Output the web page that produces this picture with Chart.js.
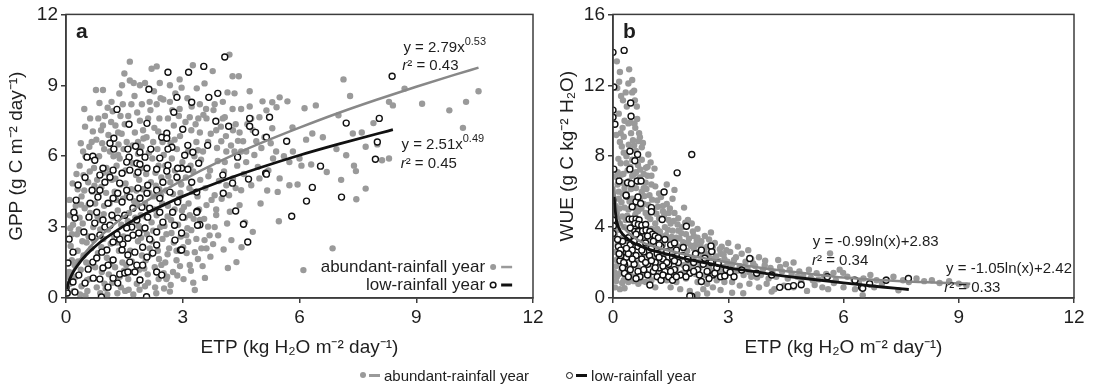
<!DOCTYPE html>
<html>
<head>
<meta charset="utf-8">
<script src="https://cdn.jsdelivr.net/npm/chart.js@4.4.1/dist/chart.umd.min.js"></script>
<style>
  body { margin: 0; background: #fff; width: 1094px; height: 388px; position: relative; overflow: hidden;
         font-family: 'Liberation Sans', Arial, sans-serif; }
  #ca { position: absolute; left: 0; top: 0; }
  #cb { position: absolute; left: 550px; top: 0; }
  #legend { position: absolute; left: 360px; top: 365px; height: 20px; display: flex; align-items: center;
            font-size: 15px; color: #1e1e1e; white-space: nowrap; }
  .dot { width: 6px; height: 6px; border-radius: 50%; background: #9a9a9a; margin-right: 3px; }
  .dash { width: 11px; height: 3px; margin-right: 4px; }
  .ring { width: 5px; height: 5px; border-radius: 50%; border: 1.5px solid #111; background: #fff; margin-right: 3px; }
</style>
</head>
<body>
<canvas id="ca" width="550" height="388"></canvas>
<canvas id="cb" width="544" height="388"></canvas>
<div id="legend">
  <span class="dot"></span><span class="dash" style="background:#9a9a9a"></span><span>abundant-rainfall year</span>
  <span class="ring" style="margin-left:37px"></span><span class="dash" style="background:#111"></span><span>low-rainfall year</span>
</div>
<script>
// ---------------------------------------------------------
// datos (ETP, valor)
// ---------------------------------------------------------
const xTicks = [0, 3, 6, 9, 12];
const gppTicks = [0, 3, 6, 9, 12];
const wueTicks = [0, 4, 8, 12, 16];
const seriesNames = ['abundant-rainfall year', 'low-rainfall year'];

// a) GPP - año lluvioso (puntos grises)
const gppAbundant = [
  [0.05,0.2],[0.1,0.6],[0.08,1.1],[0.15,1.6],[0.12,2.2],[0.2,0.3],[0.25,0.9],[0.22,1.4],[0.3,2.0],[0.28,2.7],
  [0.18,3.1],[0.35,3.4],[0.4,0.5],[0.38,1.2],[0.45,1.8],[0.42,2.4],[0.33,2.9],[0.48,3.8],[0.4,4.3],[0.3,4.6],
  [0.45,5.2],[0.35,5.6],[0.5,6.0],[0.44,6.2],[0.47,8.0],[0.15,2.7],[0.1,3.5],[0.05,0.9],[0.25,3.9],[0.5,0.1],[0.02,0.5],
  [0.55,0.3],[0.6,0.8],[0.52,1.5],[0.65,2.1],[0.58,2.6],[0.7,3.0],[0.62,3.6],[0.75,4.0],[0.68,4.5],[0.8,5.0],
  [0.72,5.5],[0.85,6.0],[0.6,6.4],[0.78,6.7],[0.9,7.1],[0.62,7.6],[0.77,8.8],[0.95,8.8],[0.88,0.2],[0.92,1.1],
  [0.82,1.9],[0.96,2.5],[0.87,3.3],[0.98,3.9],[0.91,4.7],[0.96,5.3],[0.7,5.9],[0.98,6.3],[0.83,7.6],[0.66,6.6],
  [0.57,4.9],[0.75,1.3],[0.99,0.6],[0.88,2.9],[0.95,7.3],
  [1.02,0.4],[1.1,1.0],[1.05,1.7],[1.15,2.3],[1.08,2.9],[1.2,3.4],[1.12,4.0],[1.25,4.5],[1.18,5.0],[1.3,5.6],
  [1.22,6.0],[1.35,6.5],[1.09,6.9],[1.27,7.3],[1.4,7.7],[1.17,8.3],[1.46,8.2],[1.32,0.2],[1.38,0.9],[1.45,1.5],
  [1.36,2.0],[1.48,2.6],[1.42,3.1],[1.33,3.7],[1.47,4.2],[1.4,4.8],[1.45,5.3],[1.38,5.9],[1.48,6.3],[1.34,7.0],
  [1.0,7.7],[1.13,6.2],[1.26,1.3],[1.2,7.9],[1.44,9.0],[1.04,5.5],
  [1.52,0.3],[1.6,0.8],[1.55,1.4],[1.65,2.0],[1.58,2.5],[1.7,3.1],[1.62,3.6],[1.75,4.1],[1.68,4.6],[1.8,5.2],
  [1.72,5.7],[1.85,6.1],[1.56,6.6],[1.77,7.0],[1.9,7.5],[1.68,8.2],[1.64,10.0],[1.64,9.2],[1.74,9.1],[1.9,9.0],
  [1.95,8.2],[1.82,0.6],[1.88,1.2],[1.95,1.8],[1.85,2.4],[1.98,2.9],[1.92,3.5],[1.83,4.0],[1.97,4.6],[1.88,5.0],
  [1.95,5.5],[1.85,6.6],[1.98,7.1],[1.6,7.7],[1.53,5.4],[1.78,3.4],[1.66,1.1],[1.5,9.5],[1.94,6.4],
  [2.03,0.5],[2.1,1.0],[2.05,1.6],[2.15,2.1],[2.08,2.7],[2.2,3.2],[2.12,3.8],[2.25,4.3],[2.18,4.9],[2.3,5.3],
  [2.22,5.9],[2.35,6.3],[2.07,6.8],[2.27,7.2],[2.4,7.6],[2.15,8.3],[2.03,9.1],[2.2,9.7],[2.33,9.8],[2.41,9.1],
  [2.33,8.2],[2.32,0.2],[2.38,0.8],[2.45,1.4],[2.36,2.0],[2.48,2.5],[2.42,3.0],[2.33,3.5],[2.47,4.0],[2.4,4.6],
  [2.45,5.1],[2.38,5.6],[2.48,6.6],[2.11,7.6],[2.24,6.6],[2.03,4.0],[2.28,1.3],[2.2,2.4],
  [2.52,0.4],[2.6,0.9],[2.55,1.5],[2.65,2.1],[2.58,2.7],[2.7,3.3],[2.62,3.9],[2.75,4.4],[2.68,4.9],[2.8,5.4],
  [2.72,5.9],[2.85,6.3],[2.56,6.8],[2.77,7.3],[2.9,7.7],[2.67,8.3],[2.67,9.0],[2.92,9.25],[2.97,8.9],[2.92,8.0],
  [2.84,1.6],[2.75,1.1],[2.58,0.8],[2.84,2.0],[2.95,2.6],[2.88,3.1],[2.98,3.7],[2.9,4.2],[2.96,4.8],[2.55,5.6],
  [2.79,6.7],[2.62,7.6],[2.67,0.27],[2.5,8.4],
  [3.02,0.8],[3.1,1.9],[3.18,1.4],[3.14,2.38],[3.22,2.87],[3.05,3.4],[3.15,4.0],[3.25,4.5],[3.08,5.1],[3.2,5.6],
  [3.3,6.0],[3.14,6.2],[3.35,6.6],[3.22,7.1],[3.18,7.65],[3.23,8.1],[3.36,8.87],[3.26,9.85],[3.31,1.94],[3.31,0.34],
  [3.44,3.3],[3.48,2.1],[3.44,7.0],[3.4,7.6],[3.44,8.2],[3.52,6.2],[3.45,5.0],[3.38,4.3],[3.18,3.5],[3.35,2.5],
  [3.56,2.45],[3.61,2.1],[3.78,2.28],[3.82,3.0],[3.65,3.02],[3.86,3.51],[3.61,3.93],[3.82,4.35],[4.12,4.77],[4.29,5.06],
  [4.5,4.56],[4.21,3.65],[4.46,3.93],[4.16,1.27],[4.38,1.52],[3.6,8.0],[3.56,9.08],[3.77,9.6],[3.82,8.2],[4.03,8.3],
  [4.28,8.0],[4.15,8.7],[4.33,8.66],[4.28,9.38],[4.44,9.38],[4.2,10.3],[3.65,6.6],[3.86,7.1],[4.03,7.6],[4.12,6.2],
  [3.99,6.63],[4.08,7.65],[4.29,7.1],[4.33,6.2],[4.5,6.2],[3.7,5.4],[3.9,5.8],[4.08,5.75],[4.46,7.0],[3.61,7.6],
  [4.4,5.6],[4.0,4.2],
  [4.5,8.0],[4.55,6.63],[4.63,6.2],[4.72,8.75],[4.72,8.1],[4.76,7.6],[4.63,5.75],[4.76,4.77],[4.8,7.1],[4.89,6.63],
  [4.97,5.06],[4.97,7.65],[4.8,2.8],[5.05,8.32],[5.1,6.8],[5.15,7.94],[5.3,8.28],[5.3,7.18],[5.32,5.9],[5.4,6.2],
  [5.41,8.07],[5.49,8.49],[5.49,5.06],[5.44,4.49],[5.47,3.25],[5.69,8.32],[5.74,4.77],[5.74,5.75],[5.82,7.22],[5.83,6.2],
  [5.95,4.8],[6.0,5.9],[6.13,8.03],[6.17,6.7],[6.05,5.6],[6.1,1.18],[6.3,5.65],[6.33,6.96],[6.42,8.15],[5.2,5.4],
  [5.6,6.0],[4.6,3.2],[5.0,4.0],
  [6.7,5.33],[6.85,2.1],[6.95,6.3],[7.0,7.73],[7.07,5.0],[7.13,9.25],[7.2,6.04],[7.3,8.55],[7.37,6.96],[7.4,5.6],
  [7.45,5.37],[7.46,4.18],[7.7,4.63],[7.7,6.4],[7.9,7.4],[8.12,5.83],[8.3,5.9],[8.3,8.3],[8.4,8.15],[8.7,8.86],
  [9.15,8.22],[9.85,7.94],[10.2,7.2],[10.28,8.3],[10.6,8.75],[6.6,6.8],[7.6,7.0],[8.0,6.5],
  [0.13,0.85],[0.21,1.95],[0.36,0.15],[0.31,1.55],[0.43,3.15],[0.53,2.35],[0.61,5.35],[0.73,4.75],[0.69,7.05],[0.81,3.45],
  [0.93,6.55],[0.86,8.25],[1.07,8.05],[1.16,7.45],[1.23,2.65],[1.29,4.15],[1.37,8.65],[1.43,6.95],[1.51,7.35],[1.57,4.35],
  [1.63,5.95],[1.71,6.45],[1.76,8.55],[1.83,7.85],[1.91,4.25],[1.99,6.75],[2.06,5.25],[2.13,6.15],[2.17,7.95],[2.26,8.75],
  [2.31,4.75],[2.37,7.05],[2.43,8.45],[2.51,6.05],[2.57,4.55],[2.63,5.15],[2.69,6.55],[2.73,7.95],[2.81,8.65],[2.87,5.05],
  [2.93,6.85],[2.99,5.75],[3.07,7.45],[3.12,8.45],[3.17,4.65],[3.27,5.35],[3.33,7.35],[3.39,6.25],[3.47,5.85],[3.53,7.75],
  [3.58,4.65],[3.66,5.15],[3.72,6.95],[3.79,7.95],[3.88,6.35],[3.93,4.95],[3.98,7.25],[4.06,5.35],[4.11,6.85],[4.19,4.35],
  [4.24,6.45],[4.36,7.35],[4.42,6.65],[4.57,5.25],[4.66,7.35],[4.84,6.05],[4.93,5.55],[5.02,6.35],[5.17,4.55],[5.26,6.55],
  [0.09,4.15],[0.17,4.85],[0.27,5.25],[0.38,6.55],[0.49,7.25],[0.54,0.75],[0.63,1.35],[0.79,0.45],[0.91,2.15],[1.06,0.15],
  [1.14,1.45],[1.19,0.65],[1.31,2.35],[1.41,0.45],[1.49,1.15],[1.61,0.35],[1.69,1.55],[1.73,0.15],[1.89,0.35],[1.93,2.55],
  [2.01,1.25],[2.11,0.65],[2.19,1.85],[2.29,0.45],[2.39,1.65],[2.51,1.05],[2.61,1.85],[2.69,0.55],[2.77,2.35],[2.86,0.95],
  [2.93,1.35],[3.01,2.15],[3.09,2.65],[3.21,1.15],[3.27,0.65],[3.39,1.65],[3.51,1.35],[3.57,0.85],[3.71,1.75],[3.69,2.65],
  [3.91,2.65],[4.05,2.05],[4.25,2.45],[4.51,2.15],[0.11,2.95],[0.23,3.55],[0.39,3.95],[0.47,4.55],[0.58,3.95],[0.71,2.45],
  [0.83,4.35],[0.97,3.55],[1.03,4.45],[1.11,5.25],[1.27,5.05],[1.34,6.05],[1.53,4.85],[1.59,3.25],[1.73,3.85],[1.81,4.55],
  [1.87,3.05],[2.04,3.45],[2.14,4.45],[2.24,2.85],[2.28,3.75],[2.44,4.35],[2.53,3.05],[2.61,3.45],[2.71,2.75],[2.79,3.75],
  [2.94,4.45],[3.03,3.85],[3.12,2.95],[3.28,3.35],[3.42,3.75],[3.55,3.35],[3.74,4.15],[3.86,3.75],[4.14,3.15],[4.36,4.65]
];

// a) GPP - año seco (círculos)
const gppLow = [
  [4.08,10.2],[3.54,9.8],[3.15,9.55],[2.62,9.55],[2.13,8.83],[3.9,8.66],[3.67,8.49],[3.23,8.28],[2.85,8.49],[1.31,7.98],
  [2.77,7.86],[4.72,7.6],[5.23,7.65],[3.85,7.48],[4.18,7.27],[4.72,7.27],[4.87,7.01],[3.0,7.14],[2.08,7.39],[1.62,7.35],
  [5.15,6.8],[5.67,6.63],[2.46,6.8],[2.59,6.97],[2.59,6.76],[1.23,6.76],[1.13,6.55],[1.23,6.3],[1.59,6.3],[1.79,6.42],
  [1.9,6.17],[2.18,6.3],[2.72,6.38],[2.62,6.3],[3.13,6.46],[3.26,6.17],[3.64,6.46],[3.05,6.04],[2.03,5.96],[1.62,5.96],
  [0.54,5.96],[0.69,6.0],[0.74,5.83],[2.41,5.92],[3.41,5.7],[4.41,5.96],[1.56,5.75],[1.82,5.7],[1.9,5.66],[2.62,5.62],
  [2.97,5.49],[8.38,9.38],[7.2,7.4],[8.05,7.6],[8.0,6.6],[7.95,5.87],[6.54,5.58],[5.13,5.28],[6.33,4.68],[7.08,4.27],
  [6.18,4.1],[5.8,3.46],[4.67,2.37],[4.56,3.12],[4.36,3.68],[3.44,3.1],[3.37,3.67],[2.94,2.03],[2.8,2.45],[2.07,0.05],
  [0.91,0.04],[4.28,4.86],[4.04,4.43],
  [0.49,5.1],[0.31,4.78],[0.26,4.14],[0.2,3.63],[0.23,3.38],[0.08,2.49],[0.18,1.94],[0.05,1.48],[0.0,0.42],[0.03,0.21],
  [0.23,0.25],[0.18,0.68],[0.33,0.97],[0.49,0.63],[0.57,1.22],[0.7,0.84],[0.69,1.52],[0.87,0.8],[1.08,0.46],[1.21,0.84],
  [1.33,0.63],[1.38,1.01],[1.51,1.06],[1.59,1.1],[1.77,1.1],[1.9,0.76],[1.82,1.39],[1.97,1.39],[2.33,1.1],[2.46,0.97],
  [2.23,1.9],[2.08,1.73],[1.97,2.15],[2.15,2.49],[2.33,2.24],[2.03,2.96],[1.87,2.75],[1.72,2.66],[1.59,2.53],[1.46,2.28],
  [1.38,2.49],[1.31,2.7],[1.21,2.37],[1.05,2.03],[0.92,1.94],[0.79,1.69],[0.67,2.58],[0.87,2.66],[1.0,3.0],[0.95,3.3],
  [0.74,3.17],[0.59,3.42],[0.46,2.79],[0.79,3.63],[0.62,4.01],[0.82,4.27],[0.67,4.56],[0.87,4.56],[1.0,4.9],[1.13,5.11],
  [0.87,5.2],[0.95,5.49],[1.21,5.41],[1.44,5.28],[1.64,5.41],[1.85,5.32],[2.08,5.49],[2.33,5.45],[2.59,5.37],[2.87,5.49],
  [3.13,5.45],[2.85,5.11],[3.23,4.9],[3.36,4.48],[1.38,4.86],[1.56,4.56],[1.33,4.43],[1.21,4.22],[1.08,4.01],[1.44,4.06],
  [1.64,4.27],[1.85,4.65],[2.08,4.43],[1.9,4.22],[2.1,4.77],[2.33,4.56],[2.49,4.9],[2.41,4.22],[2.15,3.8],[1.95,3.84],
  [1.72,3.8],[1.51,3.5],[1.33,3.38],[1.18,3.5],[1.13,3.08],[1.82,3.3],[2.1,3.42],[2.41,3.63],[2.49,3.21],[2.33,2.79],
  [1.69,3.0],[1.56,2.96],[1.44,2.03],[1.59,1.82],[1.77,1.94],[1.64,1.52],[1.21,1.61],[1.08,1.39],[0.95,1.27],[2.74,3.63],
  [2.79,3.08],[3.0,3.42],[3.36,3.63],[3.38,3.08],[2.97,2.03],[2.87,4.06],[2.67,4.48],[4.03,5.2],[4.69,5.03],[5.15,5.24],
  [2.97,2.75]
];

// a) curvas de ajuste
const gppFitAbundant = [
  [0.02,0.35],[0.05,0.57],[0.1,0.82],[0.2,1.19],[0.35,1.6],[0.5,1.93],[0.75,2.4],[1,2.79],[1.5,3.46],[2,4.03],
  [2.5,4.53],[3,4.99],[4,5.82],[5,6.55],[6,7.21],[7,7.83],[8,8.4],[9,8.94],[10,9.45],[10.6,9.75]
];
const gppFitLow = [
  [0.02,0.37],[0.05,0.58],[0.1,0.81],[0.2,1.14],[0.35,1.5],[0.5,1.79],[0.75,2.18],[1,2.51],[1.5,3.06],[2,3.53],
  [2.5,3.93],[3,4.3],[4,4.95],[5,5.52],[6,6.04],[7,6.51],[8,6.95],[8.4,7.12]
];

// b) WUE - año lluvioso (puntos grises)
const wueAbundant = [
  [0.05,0.6],[0.1,1.2],[0.08,1.8],[0.15,2.4],[0.12,3.0],[0.05,3.6],[0.18,4.2],[0.1,4.8],[0.22,5.4],[0.15,6.0],
  [0.25,6.5],[0.12,7.1],[0.2,7.6],[0.28,8.2],[0.1,13.35],[0.18,12.75],[0.21,11.4],[0.26,11.15],[0.15,10.4],[0.25,9.6],
  [0.18,8.8],[0.28,1.0],[0.22,1.6],[0.27,2.2],[0.3,2.8],[0.25,3.4],[0.29,4.0],[0.24,4.6],[0.3,5.1],[0.07,5.2],
  [0.18,0.5],[0.3,0.55],[0.27,7.0],[0.08,9.2],[0.12,6.4],[0.05,2.6],
  [0.42,12.9],[0.4,12.1],[0.5,11.6],[0.55,11.7],[0.57,11.15],[0.4,9.85],[0.45,9.9],[0.68,9.3],[0.7,9.07],[0.47,9.3],
  [0.55,8.6],[0.75,8.5],[0.6,8.3],[0.35,8.0],[0.5,7.8],[0.65,7.5],[0.38,7.2],[0.55,7.0],[0.7,6.8],[0.42,6.6],
  [0.6,6.2],[0.35,5.9],[0.5,5.6],[0.68,5.3],[0.4,5.0],[0.58,4.7],[0.33,4.4],[0.65,4.2],[0.45,3.9],[0.55,3.5],
  [0.38,3.2],[0.62,2.9],[0.48,2.6],[0.35,2.3],[0.6,2.0],[0.45,1.7],[0.7,1.5],[0.55,1.2],[0.4,0.9],[0.66,0.8],
  [0.5,6.9],[0.63,10.1],[0.36,10.8],[0.52,8.9],
  [0.75,7.8],[0.9,7.4],[0.8,7.0],[1.0,6.9],[0.85,6.5],[1.1,6.3],[0.75,6.0],[0.95,5.8],[1.15,5.5],[0.8,5.3],
  [1.05,5.0],[0.9,4.6],[1.2,4.5],[0.78,4.1],[1.0,3.9],[1.12,3.6],[0.85,3.4],[0.95,3.0],[1.18,2.8],[0.8,2.5],
  [1.05,2.2],[0.9,1.9],[1.15,1.6],[0.75,1.3],[1.0,1.0],[0.85,0.9],[1.1,0.6],[0.96,0.73],[1.2,5.9],[1.08,7.3],
  [0.92,8.1],[0.72,3.7],[1.18,3.2],
  [1.25,5.7],[1.4,5.3],[1.3,4.9],[1.55,5.6],[1.6,4.8],[1.45,4.4],[1.7,4.5],[1.35,4.0],[1.55,3.8],[1.8,4.0],
  [1.25,3.5],[1.45,3.3],[1.65,3.4],[1.9,3.6],[1.3,3.0],[1.5,2.8],[1.75,2.9],[1.95,3.1],[1.35,2.5],[1.6,2.3],
  [1.85,2.4],[1.25,2.0],[1.45,1.8],[1.7,1.9],[1.95,2.0],[1.3,1.5],[1.55,1.3],[1.8,1.4],[1.4,1.0],[1.65,0.9],
  [1.9,1.1],[1.5,0.6],[1.75,0.5],[1.85,5.1],[1.95,4.4],[1.6,6.1],[1.4,6.4],[1.2,1.2],
  [2.05,4.2],[2.2,3.9],[2.39,3.5],[2.1,3.5],[2.3,3.2],[2.5,3.3],[2.15,3.0],[2.45,2.9],[2.65,3.1],[2.83,2.9],
  [2.2,2.6],[2.4,2.5],[2.6,2.6],[2.8,2.5],[2.95,2.7],[2.1,2.2],[2.35,2.1],[2.55,2.2],[2.75,2.1],[2.9,2.2],
  [2.05,1.8],[2.25,1.7],[2.5,1.75],[2.7,1.7],[2.95,1.8],[2.15,1.35],[2.4,1.3],[2.6,1.35],[2.85,1.4],[2.2,0.9],
  [2.45,0.8],[2.7,1.0],[2.9,0.9],[2.2,0.2],[2.45,0.25],[2.35,0.5],[2.6,0.6],[2.8,0.45],[2.55,3.7],[2.0,0.4],
  [3.05,2.6],[3.2,2.3],[3.35,2.5],[3.52,2.7],[3.6,2.2],[3.8,2.3],[3.96,2.1],[4.3,2.14],[4.5,1.9],[4.7,2.0],
  [3.1,1.9],[3.3,1.8],[3.5,1.7],[3.7,1.8],[3.9,1.6],[4.1,1.7],[4.4,1.5],[4.6,1.6],[4.85,1.5],[3.15,1.4],
  [3.4,1.3],[3.6,1.2],[3.85,1.3],[4.05,1.1],[4.25,1.2],[4.55,1.1],[4.8,1.2],[3.1,0.9],[3.3,0.7],[3.55,0.8],
  [3.8,0.6],[4.0,0.8],[4.2,0.5],[4.45,0.7],[4.7,0.6],[3.1,0.3],[3.39,0.27],[4.13,0.36],[4.9,0.9],[3.0,3.1],[3.25,2.9],
  [5.1,1.6],[5.3,1.4],[5.25,0.73],[5.5,1.2],[5.65,2.52],[5.74,1.42],[5.8,1.0],[5.99,1.42],[6.1,1.2],[6.26,1.05],
  [6.4,0.9],[6.52,1.1],[6.5,0.16],[6.7,1.3],[6.86,1.0],[7.0,0.8],[7.12,1.05],[7.3,1.2],[7.43,0.44],[7.55,1.0],
  [7.7,0.9],[7.9,1.1],[8.1,0.95],[8.3,1.0],[8.5,0.85],[8.75,0.95],[9.0,0.8],[9.2,0.7],[5.2,1.0],[5.45,0.6],
  [5.6,0.5],[6.0,0.6],[6.3,0.5],[5.9,1.6],[6.8,0.6],[5.05,0.4],
  [0.15,5.6],[0.3,6.2],[0.45,7.4],[0.6,7.1],[0.8,6.2],[0.9,6.9],[0.7,5.6],[1.0,6.4],[0.55,5.2],[0.85,4.8],
  [1.1,4.2],[0.65,4.9],[1.3,5.2],[1.45,4.8],[1.15,3.9],[1.7,3.8],[1.5,4.2],[2.2,3.4],[2.6,2.9],[2.1,2.8],
  [0.25,5.9],[0.35,7.6],[0.2,9.3],[0.3,10.0],[0.58,9.6],[0.62,10.8],[0.5,12.3],
  [0.04,1.45],[0.09,2.15],[0.13,3.85],[0.17,5.05],[0.06,6.85],[0.21,6.95],[0.23,8.55],[0.14,7.85],[0.19,3.25],[0.26,2.65],
  [0.32,1.25],[0.37,4.65],[0.43,5.45],[0.47,6.15],[0.52,4.25],[0.57,3.15],[0.61,4.95],[0.67,6.55],[0.71,7.25],[0.74,5.05],
  [0.77,3.35],[0.82,5.75],[0.87,6.15],[0.92,5.25],[0.97,4.45],[1.02,5.55],[1.07,3.85],[1.13,4.75],[1.17,5.15],[1.22,3.75],
  [1.27,4.45],[1.33,4.65],[1.38,3.55],[1.43,3.85],[1.48,5.05],[1.53,3.45],[1.58,4.35],[1.63,3.05],[1.68,4.15],[1.73,3.35],
  [1.78,3.65],[1.83,3.15],[1.88,4.25],[1.93,2.65],[1.98,3.35],[2.03,2.95],[2.08,3.75],[2.13,2.45],[2.18,3.25],[2.23,2.05],
  [2.28,2.95],[2.33,2.35],[2.38,2.75],[2.43,1.95],[2.48,2.45],[2.53,1.55],[2.58,2.75],[2.63,1.95],[2.68,2.35],[2.73,1.45],
  [2.78,2.75],[2.83,1.75],[2.88,2.45],[2.93,1.25],[2.98,2.05],[3.15,2.15],[3.25,1.55],[3.45,2.05],[3.55,1.45],[3.65,1.95],
  [3.75,1.15],[3.95,1.85],[4.15,1.45],[4.35,1.75],[4.65,1.35],[4.95,1.25],[5.15,1.15],[5.35,1.05],[5.55,1.35],[5.75,0.85],
  [0.08,0.95],[0.16,1.35],[0.24,0.85],[0.34,1.75],[0.44,1.35],[0.54,0.95],[0.64,1.75],[0.74,0.95],[0.84,1.45],[0.94,1.25],
  [1.04,1.85],[1.14,2.45],[1.24,1.65],[1.34,2.15],[1.44,1.45],[1.54,2.05],[1.64,1.65],[1.74,2.25],[1.84,1.85],[1.94,1.55],
  [0.11,11.85],[0.16,12.2],[0.33,11.6],[0.28,9.1],[0.41,8.65],[0.56,9.85],[0.66,8.85],[0.78,8.75],[0.86,7.35],[0.98,7.65]
];

// b) WUE - año seco (círculos)
const wueLow = [
  [0.0,13.86],[0.29,13.97],[0.02,11.9],[0.0,10.6],[0.0,10.2],[0.05,9.8],[0.46,11.0],[0.47,10.25],[0.44,8.28],[0.64,8.1],
  [0.57,7.74],[0.44,7.27],[0.02,7.27],[0.16,6.6],[0.38,6.5],[0.48,6.45],[0.63,6.6],[0.73,6.6],[1.67,7.06],[2.05,8.1],
  [1.33,5.98],[0.35,5.75],[0.0,5.5],[0.6,5.43],[0.72,5.33],[0.5,5.15],[1.0,5.1],[1.0,4.87],[1.28,4.43],[1.91,4.05],
  [0.0,4.4],[0.01,4.06],[0.0,3.64],[0.34,5.8],[0.65,5.7],
  [0.42,4.45],[0.5,4.45],[0.6,4.45],[0.68,4.4],[0.57,4.2],[0.66,4.15],[0.75,4.1],[0.85,4.15],[0.45,3.95],[0.57,3.75],
  [0.66,3.75],[0.77,3.78],[0.86,3.82],[0.96,3.75],[1.03,3.6],[1.1,3.5],[1.18,3.4],
  [0.14,2.9],[0.2,2.7],[0.18,2.1],[0.3,1.9],[0.35,2.3],[0.25,3.2],[0.4,3.4],[0.45,3.0],[0.5,2.7],[0.55,3.2],
  [0.6,2.4],[0.65,2.9],[0.7,3.4],[0.75,2.2],[0.8,2.6],[0.85,3.1],[0.9,1.9],[0.95,2.4],[1.0,2.8],[1.05,3.2],
  [1.1,2.0],[1.15,2.5],[1.2,1.7],[1.25,2.9],[1.3,2.2],[1.35,1.5],[1.4,2.6],[1.45,1.9],[1.5,3.0],[1.55,2.3],
  [1.6,1.6],[1.65,2.7],[1.7,2.0],[1.75,1.3],[1.8,2.4],[1.83,2.85],[1.9,1.7],[1.95,2.2],[2.0,1.4],[2.1,2.0],
  [2.15,2.5],[2.2,1.6],[2.3,2.7],[2.3,0.93],[2.35,1.9],[2.39,2.24],[2.45,1.5],[2.55,2.0],[2.57,2.62],[2.6,1.3],
  [2.7,1.7],[2.74,1.96],[2.8,1.2],[2.91,1.24],[2.95,1.6],[3.05,1.45],[3.15,1.2],[3.35,1.58],[3.56,2.23],[3.74,1.4],
  [4.13,1.3],[4.34,0.6],[4.56,0.64],[4.7,0.7],[4.9,0.75],[2.05,0.1],[0.96,0.73],[2.0,0.11],[6.47,0.6],[6.68,0.8],
  [5.58,1.2],[6.3,1.0],[6.5,0.55],[7.11,1.0],[7.69,1.1],[2.55,2.93],
  [0.3,1.4],[0.45,1.6],[0.55,1.9],[0.65,1.5],[0.7,1.2],[0.8,1.6],[0.9,1.3],[1.05,1.5],[1.15,1.2],[1.25,1.0],
  [1.3,1.3],[1.45,1.2],[1.55,1.0],[1.65,1.2],[0.6,1.1],[0.5,2.2],[0.4,2.5],[0.75,2.7],[1.0,2.1],[1.2,2.3],
  [1.4,2.0],[1.6,2.1],[1.1,1.7],[1.3,1.8],[0.85,2.0],[1.5,1.5],[1.9,1.2],[2.1,1.5],[2.25,1.3],[2.5,1.1],
  [2.65,1.4],[0.2,2.4],[0.28,2.0],[0.35,2.8],[0.6,3.6],[0.9,3.5],[1.2,3.0],[1.35,3.3],[1.6,3.1],[0.25,1.7],
  [0.4,1.2],[0.16,2.5],[0.12,3.3]
];

// b) curvas de ajuste
const wueFitAbundant = [
  [0.03,6.3],[0.06,5.5],[0.1,4.9],[0.2,4.25],[0.35,3.8],[0.5,3.5],[0.75,3.15],[1,2.95],[1.5,2.65],[2,2.4],
  [2.5,2.2],[3,2.0],[3.5,1.82],[4,1.65],[5,1.4],[6,1.15],[7,1.0],[8,0.9],[9.3,0.8]
];
const wueFitLow = [
  [0.03,5.7],[0.06,4.9],[0.1,4.3],[0.2,3.75],[0.35,3.4],[0.5,3.15],[0.75,2.9],[1,2.7],[1.5,2.42],[2,2.15],
  [2.5,1.95],[3,1.7],[3.5,1.55],[4,1.38],[5,1.1],[6,0.85],[7,0.62],[7.7,0.48]
];

// ---------------------------------------------------------
// estilo común
// ---------------------------------------------------------
const FONT = "'Liberation Sans', Arial, sans-serif";
const INK = '#1e1e1e';
const AXIS = '#3c3c3c';
const GRAY = '#9a9a9a';
const GRAY_LINE = '#888888';

const toXY = arr => arr.map(([x, y]) => ({ x, y }));

function axis(ticks, fitSize, isX, title, titlePad) {
  return {
    type: 'linear',
    min: ticks[0],
    max: ticks[ticks.length - 1],
    afterBuildTicks: s => { s.ticks = ticks.map(v => ({ value: v })); },
    afterFit: s => { if (isX) s.height = fitSize; else s.width = fitSize; },
    grid: { display: true, drawOnChartArea: false, drawTicks: true, tickLength: 5, color: AXIS, lineWidth: 1.5 },
    border: { display: true, color: AXIS, width: 1.5 },
    ticks: { color: INK, font: { family: FONT, size: 19 }, padding: 3, maxRotation: 0, autoSkip: false },
    title: { display: true, text: title, color: INK, font: { family: FONT, size: 19 }, padding: titlePad }
  };
}

// marco, letra del panel, ecuaciones y leyenda interna
const framePlugin = {
  id: 'frame',
  afterDatasetsDraw(chart, args, opts) {
    const { ctx, chartArea: a, scales } = chart;
    ctx.save();
    ctx.strokeStyle = AXIS;
    ctx.lineWidth = 1.5;
    ctx.strokeRect(a.left, a.top, a.right - a.left, a.bottom - a.top);

    ctx.fillStyle = INK;
    ctx.textBaseline = 'alphabetic';
    ctx.font = `bold 21px ${FONT}`;
    ctx.fillText(opts.letter, a.left + 10, a.top + 24);

    ctx.textBaseline = 'middle';
    for (const n of opts.notes) {
      let px = scales.x.getPixelForValue(n.x);
      const py = scales.y.getPixelForValue(n.y);
      for (const p of n.parts) {
        ctx.font = `${p.italic ? 'italic ' : ''}${p.size || 15}px ${FONT}`;
        ctx.fillText(p.t, px, py + (p.dy || 0));
        px += ctx.measureText(p.t).width;
      }
    }
    if (opts.key) {
      ctx.font = `17px ${FONT}`;
      ctx.textAlign = 'right';
      opts.key.forEach(k => {
        const px = scales.x.getPixelForValue(k.x);
        const py = scales.y.getPixelForValue(k.y);
        ctx.fillStyle = INK;
        ctx.fillText(k.label, px, py);
        ctx.beginPath();
        ctx.arc(px + 8, py, k.ring ? 2.8 : 3, 0, Math.PI * 2);
        if (k.ring) { ctx.fillStyle = '#fff'; ctx.fill(); ctx.strokeStyle = '#111'; ctx.lineWidth = 1.5; ctx.stroke(); }
        else { ctx.fillStyle = GRAY; ctx.fill(); }
        ctx.strokeStyle = k.ring ? '#111' : GRAY;
        ctx.lineWidth = k.ring ? 3 : 2.5;
        ctx.beginPath();
        ctx.moveTo(px + 16, py);
        ctx.lineTo(px + 27, py);
        ctx.stroke();
      });
    }
    ctx.restore();
  }
};

function datasets(gray, low, fitGray, fitLow) {
  return [
    { data: toXY(fitLow), showLine: true, pointRadius: 0, borderColor: '#111', borderWidth: 2.8,
      cubicInterpolationMode: 'monotone', order: 0 },
    { data: toXY(fitGray), showLine: true, pointRadius: 0, borderColor: GRAY_LINE, borderWidth: 2.5,
      cubicInterpolationMode: 'monotone', order: 1 },
    { data: toXY(low), pointRadius: 3, pointBorderWidth: 1.4, pointBorderColor: '#111',
      pointBackgroundColor: '#fff', order: 2 },
    { data: toXY(gray), pointRadius: 3.2, pointBorderWidth: 0, pointBackgroundColor: GRAY,
      pointBorderColor: GRAY, order: 3 }
  ];
}

function makeChart(id, cfg) {
  return new Chart(document.getElementById(id), {
    type: 'scatter',
    data: { datasets: datasets(cfg.gray, cfg.low, cfg.fitGray, cfg.fitLow) },
    options: {
      responsive: false,
      devicePixelRatio: 1,
      animation: false,
      events: [],
      layout: { padding: { top: 14, right: cfg.right, left: 0, bottom: 0 } },
      scales: {
        x: axis(xTicks, 90, true, 'ETP (kg H₂O m⁻² day⁻¹)', { top: 0, bottom: 29 }),
        y: axis(cfg.yTicks, cfg.yWidth, false, cfg.yTitle, { top: cfg.yTitlePad, bottom: 0 })
      },
      plugins: {
        legend: { display: false },
        tooltip: { enabled: false },
        frame: { letter: cfg.letter, notes: cfg.notes, key: cfg.key }
      }
    },
    plugins: [framePlugin]
  });
}

// ---------------------------------------------------------
// panel a: GPP
// ---------------------------------------------------------
makeChart('ca', {
  gray: gppAbundant, low: gppLow, fitGray: gppFitAbundant, fitLow: gppFitLow,
  yTicks: gppTicks, yWidth: 66, right: 17, yTitlePad: 5, letter: 'a',
  yTitle: 'GPP (g C m⁻² day⁻¹)',
  notes: [
    { x: 8.67, y: 10.6, parts: [{ t: 'y = 2.79x' }, { t: '0.53', size: 11, dy: -6 }] },
    { x: 8.64, y: 9.84, parts: [{ t: 'r', italic: true }, { t: '² = 0.43' }] },
    { x: 8.62, y: 6.46, parts: [{ t: 'y = 2.51x' }, { t: '0.49', size: 11, dy: -6 }] },
    { x: 8.6, y: 5.66, parts: [{ t: 'r', italic: true }, { t: '² = 0.45' }] }
  ],
  key: [
    { label: seriesNames[0], x: 10.77, y: 1.31, ring: false },
    { label: seriesNames[1], x: 10.77, y: 0.55, ring: true }
  ]
});

// ---------------------------------------------------------
// panel b: WUE
// ---------------------------------------------------------
makeChart('cb', {
  gray: wueAbundant, low: wueLow, fitGray: wueFitAbundant, fitLow: wueFitLow,
  yTicks: wueTicks, yWidth: 63, right: 20, yTitlePad: 6, letter: 'b',
  yTitle: 'WUE (g C kg⁻² H₂O)',
  notes: [
    { x: 5.2, y: 3.15, parts: [{ t: 'y = -0.99ln(x)+2.83' }] },
    { x: 5.18, y: 2.08, parts: [{ t: 'r', italic: true }, { t: '² = 0.34' }] },
    { x: 8.67, y: 1.63, parts: [{ t: 'y = -1.05ln(x)+2.42' }] },
    { x: 8.62, y: 0.56, parts: [{ t: 'r', italic: true }, { t: '² = 0.33' }] }
  ]
});
</script>
</body>
</html>
